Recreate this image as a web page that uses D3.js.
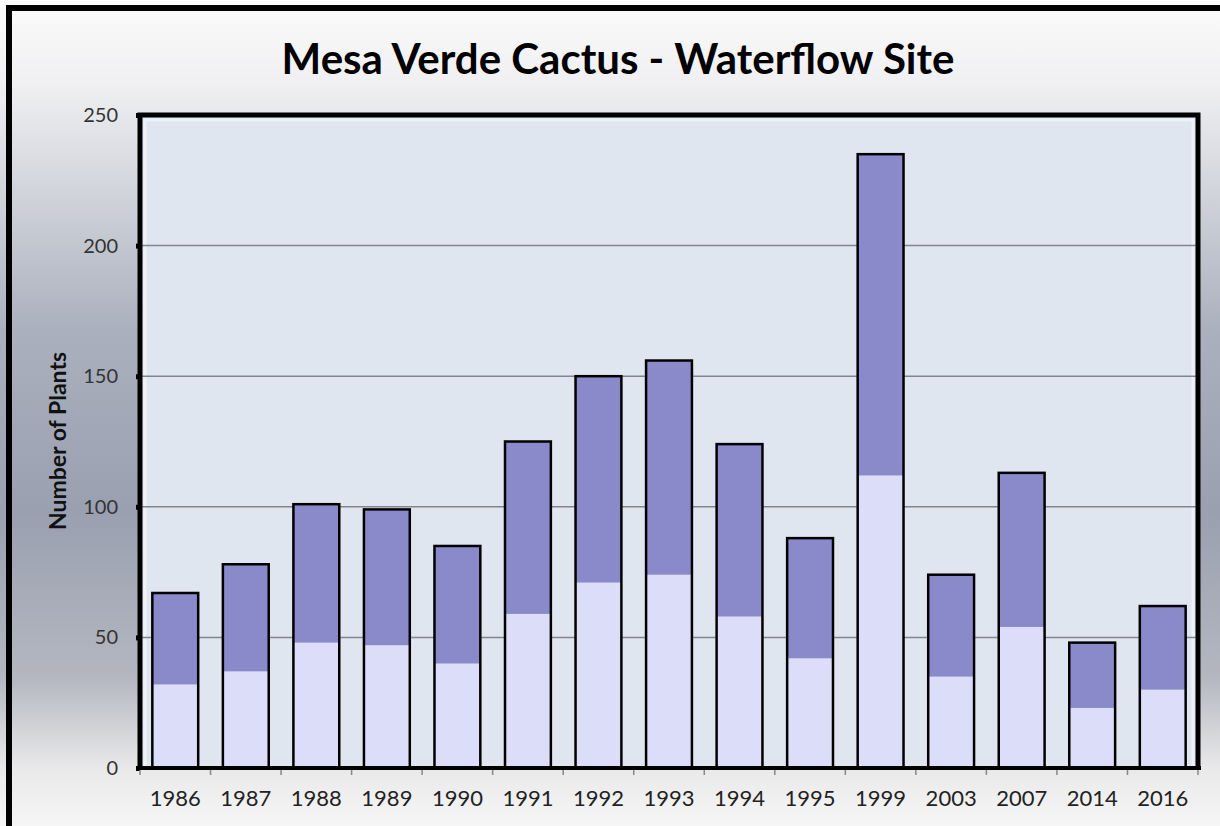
<!DOCTYPE html>
<html>
<head>
<meta charset="utf-8">
<script src="https://cdn.jsdelivr.net/npm/d3@7/dist/d3.min.js"></script>
<style>
body { margin: 0; background: #fff; }
text { font-family: Lato, "Open Sans", sans-serif; }
</style>
</head>
<body>
<script>
var years = ["1986", "1987", "1988", "1989", "1990", "1991", "1992", "1993",
  "1994", "1995", "1999", "2003", "2007", "2014", "2016"]
// lower (light) segment and upper (dark) segment of each bar
var lowerPart = [32, 37, 48, 47, 40, 59, 71, 74, 58, 42, 112, 35, 54, 23, 30]
var upperPart = [35, 41, 53, 52, 45, 66, 79, 82, 66, 46, 123, 39, 59, 25, 32]
var yTicks = [0, 50, 100, 150, 200, 250]

var W = 1220, H = 826
var pL = 140, pR = 1198, pT = 115, pB = 768

var rows = years.map((y, i) => ({ year: y, lower: lowerPart[i], upper: upperPart[i] }))
var series = d3.stack().keys(["lower", "upper"])(rows)

var x = d3.scaleBand()
  .domain(years)
  .range([pL, pR])
  .paddingInner(0.35)
  .paddingOuter(0.175)

var y = d3.scaleLinear()
  .domain([0, 250])
  .range([pB, pT])

var colors = { lower: "#dcdef9", upper: "#8a8acb" }

var svg = d3.select("body").append("svg")
  .attr("width", W)
  .attr("height", H)

var defs = svg.append("defs")
var bg = defs.append("linearGradient").attr("id", "bg")
  .attr("x1", 0).attr("y1", 0).attr("x2", 0).attr("y2", 1)
bg.selectAll("stop")
  .data([[0, "#fbfbfb"], [0.1, "#f0f0f2"], [0.2, "#d9dbe1"], [0.4, "#aab0bd"],
    [0.62, "#9aa0b0"], [0.82, "#b4b7c0"], [0.93, "#e9e9ea"], [1, "#f6f6f6"]])
  .enter().append("stop")
  .attr("offset", d => d[0])
  .attr("stop-color", d => d[1])

svg.append("rect")
  .attr("width", W).attr("height", H)
  .attr("fill", "url(#bg)")

// outer frame
svg.append("rect")
  .attr("x", 9).attr("y", 8)
  .attr("width", W + 20).attr("height", H + 20)
  .attr("fill", "none")
  .attr("stroke", "#000")
  .attr("stroke-width", 6)

// plot area
svg.append("rect")
  .attr("x", pL).attr("y", pT)
  .attr("width", pR - pL).attr("height", pB - pT)
  .attr("fill", "#dfe6f0")

svg.append("rect")
  .attr("x", pL + 5).attr("y", pT + 5)
  .attr("width", pR - pL - 10).attr("height", pB - pT - 5)
  .attr("fill", "none")
  .attr("stroke", "#eef2f8")
  .attr("stroke-width", 3)

// gridlines
svg.append("g")
  .selectAll("line")
  .data(yTicks.filter(d => d > 0 && d < 250))
  .enter().append("line")
  .attr("x1", pL).attr("x2", pR)
  .attr("y1", d => y(d)).attr("y2", d => y(d))
  .attr("stroke", "#80868c")
  .attr("stroke-width", 1.5)

// bars
var layer = svg.append("g")
  .selectAll("g")
  .data(series)
  .enter().append("g")
  .attr("fill", d => colors[d.key])

layer.selectAll("rect")
  .data(d => d)
  .enter().append("rect")
  .attr("x", d => x(d.data.year))
  .attr("y", d => y(d[1]))
  .attr("width", x.bandwidth())
  .attr("height", d => y(d[0]) - y(d[1]))

// outline round the whole stack
svg.append("g")
  .selectAll("rect")
  .data(series[series.length - 1])
  .enter().append("rect")
  .attr("x", d => x(d.data.year))
  .attr("y", d => y(d[1]))
  .attr("width", x.bandwidth())
  .attr("height", d => y(0) - y(d[1]))
  .attr("fill", "none")
  .attr("stroke", "#000")
  .attr("stroke-width", 2.5)

// plot border
svg.append("path")
  .attr("d", "M" + pL + "," + pB + "V" + pT + "H" + pR + "V" + pB)
  .attr("fill", "none")
  .attr("stroke", "#000")
  .attr("stroke-width", 5)

// y axis
var yAxis = svg.append("g")
  .attr("transform", "translate(" + pL + ",0)")
  .call(d3.axisLeft(y).tickValues(yTicks).tickSize(4).tickPadding(18))
yAxis.select(".domain").remove()
yAxis.selectAll(".tick line").attr("stroke", "#000").attr("stroke-width", 5)
yAxis.selectAll(".tick text")
  .attr("font-size", 20)
  .attr("fill", "#333")

// x axis
var xAxis = svg.append("g")
  .attr("transform", "translate(0," + pB + ")")
  .call(d3.axisBottom(x).tickSize(0).tickPadding(22))
xAxis.select(".domain")
  .attr("d", "M" + (pL - 4) + ",0H" + (pR + 3))
  .attr("stroke", "#000")
  .attr("stroke-width", 4)
xAxis.selectAll(".tick text")
  .attr("font-size", 22)
  .attr("fill", "#222")

svg.append("g")
  .selectAll("line")
  .data(years.concat(["end"]))
  .enter().append("line")
  .attr("x1", (d, i) => pL + i * x.step())
  .attr("x2", (d, i) => pL + i * x.step())
  .attr("y1", pB + 2).attr("y2", pB + 7)
  .attr("stroke", "#888")
  .attr("stroke-width", 1.5)

// titles
svg.append("text")
  .attr("x", 618).attr("y", 74)
  .attr("text-anchor", "middle")
  .attr("font-size", 42)
  .attr("font-weight", "bold")
  .attr("fill", "#000")
  .text("Mesa Verde Cactus - Waterflow Site")

svg.append("text")
  .attr("transform", "translate(66,441) rotate(-90)")
  .attr("text-anchor", "middle")
  .attr("font-size", 23)
  .attr("font-weight", "bold")
  .attr("fill", "#111")
  .text("Number of Plants")
</script>
</body>
</html>
